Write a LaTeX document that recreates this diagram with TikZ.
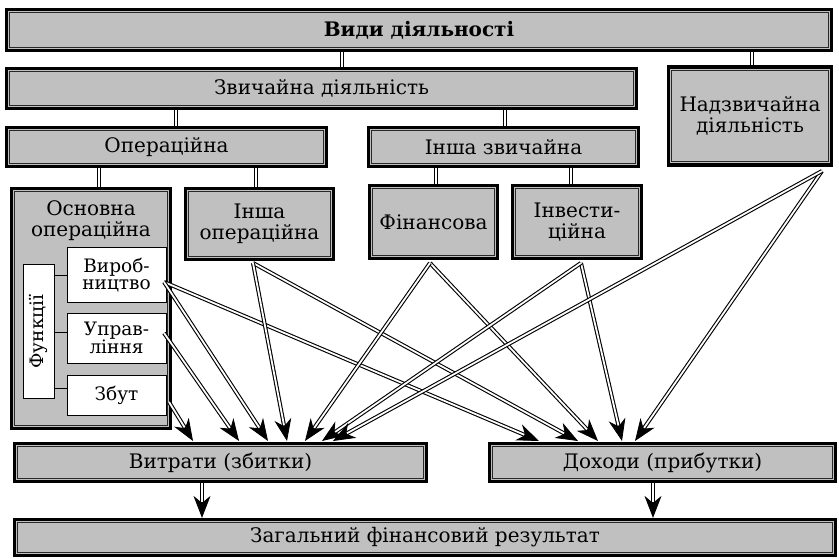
\documentclass[tikz,border=0pt]{standalone}
\usepackage{fontspec}
\setmainfont{DejaVu Serif}
\usetikzlibrary{arrows.meta,backgrounds}
\definecolor{boxgray}{RGB}{192,192,192}
\definecolor{rimline}{RGB}{40,40,40}

\begin{document}
\begin{tikzpicture}[x=1pt,y=-1pt,
  box/.style={draw=black, line width=3.2pt, fill=boxgray, inner sep=0pt, align=center,
    font=\fontsize{20}{21}\selectfont,
    path picture={\draw[line width=1pt, rimline]
      ([shift={(3.2pt,3.2pt)}]path picture bounding box.south west) rectangle
      ([shift={(-3.2pt,-3.2pt)}]path picture bounding box.north east);}},
  wbox/.style={draw=black, line width=1pt, fill=white, inner sep=0pt, align=center,
    font=\fontsize{18.5}{17.5}\selectfont},
  conn/.style={draw=black, line width=1.1pt, double=white, double distance=1.8pt},
  arr/.style={draw=black, line width=4pt,
    -{Stealth[length=22pt,width=17pt,inset=7pt,line width=0.8pt]},
    postaction={draw=white, line width=1.8pt, -, shorten >=16pt}},
  tick/.style={draw=black, line width=1pt}
]
\useasboundingbox (0,0) rectangle (839,559);

% upper levels
\node[box, font=\bfseries\fontsize{20}{21}\selectfont, minimum width=825pt, minimum height=41pt] (top) at (419,30) {Види діяльності};
\node[box, minimum width=630pt, minimum height=40pt] (zvych) at (321.5,88.5) {Звичайна діяльність};
\node[box, minimum width=163pt, minimum height=98pt] (nadzv) at (750,116) {Надзвичайна\\діяльність};
\node[box, minimum width=320pt, minimum height=39pt] (oper) at (166.5,147) {Операційна};
\node[box, minimum width=270pt, minimum height=39pt] (inshazv) at (503.5,147) {Інша звичайна};

% third level
\node[box, minimum width=159pt, minimum height=240pt] (osn) at (91,308.5) {};
\node[align=center, font=\fontsize{20}{21}\selectfont] (osnlabel) at (91,221) {Основна\\операційна};
\node[box, minimum width=148pt, minimum height=71pt] (inshaop) at (259.5,224) {Інша\\операційна};
\node[box, minimum width=128pt, minimum height=73pt] (fin) at (433.5,222) {Фінансова};
\node[box, minimum width=129pt, minimum height=73pt] (invest) at (577,222) {Інвести-\\ційна};

% functions inside the main operating box
\node[wbox, minimum width=99pt, minimum height=54pt] (vyrob) at (116.5,275) {Вироб-\\ництво};
\node[wbox, minimum width=99pt, minimum height=50pt] (uprav) at (116.5,338) {Управ-\\ління};
\node[wbox, minimum width=99pt, minimum height=40pt] (zbut) at (116.5,395) {Збут};
\node[wbox, minimum width=133pt, minimum height=31pt, rotate=90] (funk) at (38.5,331.5) {Функції};

\coordinate (k1) at (vyrob.west);
\coordinate (k2) at ([yshift=6pt]uprav.west);
\coordinate (k3) at ([yshift=7pt]zbut.west);
\draw[tick] (k1) -- (k1 -| funk.south);
\draw[tick] (k2) -- (k2 -| funk.south);
\draw[tick] (k3) -- (k3 -| funk.south);

% results
\node[box, minimum width=412pt, minimum height=38pt] (vytraty) at (220.5,462.5) {Витрати (збитки)};
\node[box, minimum width=346pt, minimum height=38pt] (dokhody) at (662.5,462.5) {Доходи (прибутки)};
\node[box, minimum width=821pt, minimum height=36pt] (zag) at (425,537.5) {Загальний фінансовий результат};

% hierarchy links
\coordinate (v1) at (342,0);
\coordinate (v2) at (752,0);
\coordinate (v3) at (176,0);
\coordinate (v4) at (505,0);
\coordinate (v5) at (99,0);
\coordinate (v6) at (256,0);
\coordinate (v7) at (436,0);
\coordinate (v8) at (571,0);
\begin{scope}[on background layer]
\draw[conn] (top.south -| v1) -- (zvych.north -| v1);
\draw[conn] (top.south -| v2) -- (nadzv.north -| v2);
\draw[conn] (zvych.south -| v3) -- (oper.north -| v3);
\draw[conn] (zvych.south -| v4) -- (inshazv.north -| v4);
\draw[conn] (oper.south -| v5) -- (osn.north -| v5);
\draw[conn] (oper.south -| v6) -- (inshaop.north -| v6);
\draw[conn] (inshazv.south -| v7) -- (fin.north -| v7);
\draw[conn] (inshazv.south -| v8) -- (invest.north -| v8);
\end{scope}

% links to the overall result
\coordinate (q1) at (202,483);
\coordinate (q2) at (653,483);
\draw[arr] (q1) -- (q1 |- zag.north);
\draw[arr] (q2) -- (q2 |- zag.north);

% flows into costs and revenues
\coordinate (sVy) at (164,282);
\coordinate (sUp) at (164,333);
\coordinate (sZb) at (169,402);
\coordinate (sIo) at (253,263);
\coordinate (sFi) at (430,263);
\coordinate (sIn) at (581,263);
\coordinate (sNa) at (822,171);

\coordinate (tZb) at (193,441);
\coordinate (tUp) at (239,441);
\coordinate (tVy) at (268,441);
\coordinate (tIo) at (287,441);
\coordinate (tFi) at (305,441);
\coordinate (tIn) at (322,441);
\coordinate (tNa) at (333,441);

\coordinate (dVy) at (539,441);
\coordinate (dIo) at (578,441);
\coordinate (dFi) at (598,441);
\coordinate (dIn) at (622,441);
\coordinate (dNa) at (635,441);

\draw[arr] (sVy) -- (dVy);
\draw[arr] (sIo) -- (dIo);
\draw[arr] (sFi) -- (dFi);
\draw[arr] (sIn) -- (dIn);
\draw[arr] (sNa) -- (dNa);

\draw[arr] (sZb) -- (tZb);
\draw[arr] (sUp) -- (tUp);
\draw[arr] (sVy) -- (tVy);
\draw[arr] (sIo) -- (tIo);
\draw[arr] (sFi) -- (tFi);
\draw[arr] (sIn) -- (tIn);
\draw[arr] (sNa) -- (tNa);
\end{tikzpicture}
\end{document}
